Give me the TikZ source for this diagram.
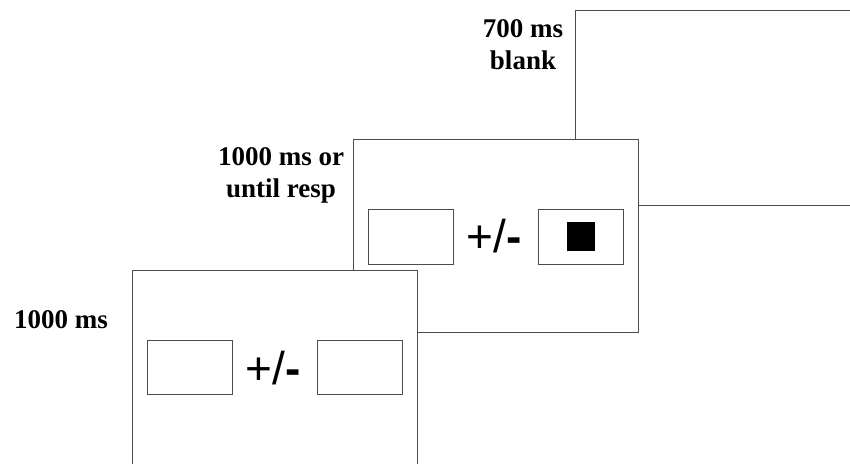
\documentclass[tikz,border=0pt]{standalone}
\usepackage{fontspec}
\setmainfont{Liberation Serif}
\newfontfamily\signfont{Liberation Sans}
\begin{document}
\begin{tikzpicture}[x=1pt,y=-1pt,
  screen/.style={draw=black!70,line width=1pt,fill=white,rectangle,
    inner sep=0pt,outer sep=0pt,minimum width=285pt,minimum height=195pt},
  holder/.style={draw=black!70,line width=1pt,fill=white,rectangle,
    inner sep=0pt,outer sep=0pt,minimum width=85pt,minimum height=55pt},
  target/.style={fill=black,rectangle,inner sep=0pt,
    minimum width=28pt,minimum height=29pt},
  sign/.style={inner sep=0pt,font=\signfont\fontsize{46}{46}\selectfont},
  timing/.style={inner sep=0pt,align=center,
    font=\bfseries\fontsize{27}{32}\selectfont}]
\useasboundingbox (0,0) rectangle (850,463);
\clip (0,0) rectangle (850,463);

% blank screen (back)
\node[screen] (blankscr) at (717.5,107.5) {};
\node[timing] (tblank) at (523,45) {700 ms\\blank};

% target screen (middle)
\node[screen,minimum height=193pt] (targscr) at (495.5,235.5) {};
\node[holder] (tl) at (410.5,236.5) {};
\node[holder] (tr) at (581,236.5) {};
\node[target] (tsq) at (tr.center) {};
\node[sign] (tsign) at (494,236) {+/\textbf{-}};
\node[timing] (ttarg) at (281,175) {1000 ms or\\until resp};

% fixation screen (front)
\node[screen] (fixscr) at (274.5,367.5) {};
\node[holder,minimum height=54pt] (fl) at (189.5,367) {};
\node[holder,minimum height=54pt] (fr) at (359.5,367) {};
\node[sign] (fsign) at (273,368) {+/\textbf{-}};
\node[timing] (tfix) at (61,320) {1000 ms};
\end{tikzpicture}
\end{document}
